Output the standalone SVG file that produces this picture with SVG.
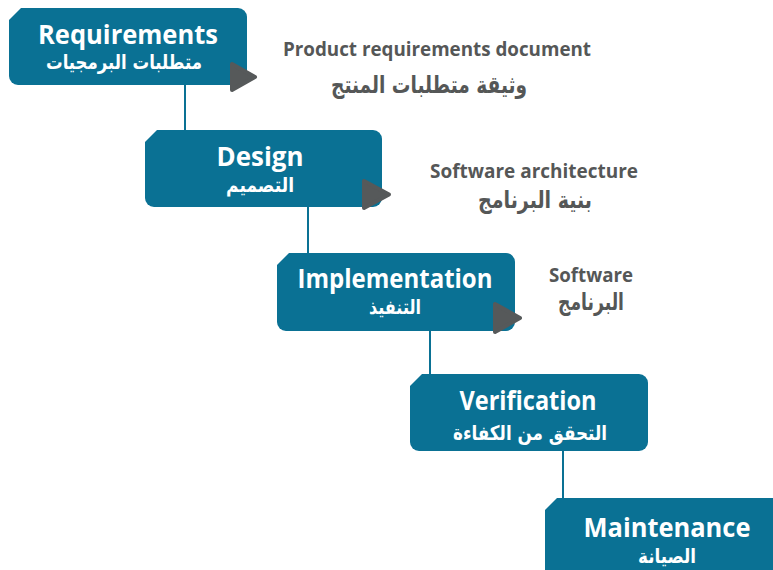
<svg xmlns="http://www.w3.org/2000/svg" width="773" height="570" viewBox="0 0 773 570">
<style>
.box{fill:#0a7194}
.tri{fill:#56595a;stroke:#56595a;stroke-width:4;stroke-linejoin:round}
.conn{stroke:#0a7194;stroke-width:2;fill:none}
.t{font-family:"Open Sans","DejaVu Sans",sans-serif;font-weight:bold;fill:#ffffff;text-anchor:middle;font-size:27px}
.a{font-family:"DejaVu Sans","Noto Sans",sans-serif;font-weight:bold;fill:#ffffff;text-anchor:middle;font-size:20px}
.l{font-family:"Open Sans","DejaVu Sans",sans-serif;font-weight:bold;fill:#555757;text-anchor:middle;font-size:19px}
.la{font-family:"DejaVu Sans","Noto Sans",sans-serif;font-weight:bold;fill:#555757;text-anchor:middle;font-size:24px}
</style>
<rect width="773" height="570" fill="#ffffff"/>
<g id="connectors">
<line class="conn" x1="185" y1="84" x2="185" y2="131"/>
<line class="conn" x1="308" y1="206" x2="308" y2="254"/>
<line class="conn" x1="430" y1="330" x2="430" y2="375"/>
<line class="conn" x1="563" y1="450" x2="563" y2="499"/>
</g>
<g id="requirements">
<path class="box" d="M21 8H238A9 9 0 0 1 247 17V76A9 9 0 0 1 238 85H18A9 9 0 0 1 9 76V20Z"/>
<text class="t" x="128" y="44" textLength="180" lengthAdjust="spacingAndGlyphs">Requirements</text>
<text class="a" x="124" y="69" textLength="156" lengthAdjust="spacingAndGlyphs">متطلبات البرمجيات</text>
<polygon class="tri" points="232,64 232,90 255,77"/>
</g>
<g id="design">
<path class="box" d="M157 130H373A9 9 0 0 1 382 139V198A9 9 0 0 1 373 207H154A9 9 0 0 1 145 198V142Z"/>
<text class="t" x="260" y="166" textLength="87" lengthAdjust="spacingAndGlyphs">Design</text>
<text class="a" x="260" y="192" textLength="68" lengthAdjust="spacingAndGlyphs">التصميم</text>
<polygon class="tri" points="364,181 364,208 389,194.5"/>
</g>
<g id="implementation">
<path class="box" d="M289 253H506A9 9 0 0 1 515 262V322A9 9 0 0 1 506 331H286A9 9 0 0 1 277 322V265Z"/>
<text class="t" x="395" y="288" textLength="195" lengthAdjust="spacingAndGlyphs">Implementation</text>
<text class="a" x="395" y="314" textLength="52" lengthAdjust="spacingAndGlyphs">التنفيذ</text>
<polygon class="tri" points="495,304 495,332 520,318"/>
</g>
<g id="verification">
<path class="box" d="M422 374H639A9 9 0 0 1 648 383V442A9 9 0 0 1 639 451H419A9 9 0 0 1 410 442V386Z"/>
<text class="t" x="528" y="410" textLength="137" lengthAdjust="spacingAndGlyphs">Verification</text>
<text class="a" x="530" y="440" textLength="154" lengthAdjust="spacingAndGlyphs">التحقق من الكفاءة</text>
</g>
<g id="maintenance">
<path class="box" d="M557 498H790V590H545V510Z"/>
<text class="t" x="667" y="537" textLength="167" lengthAdjust="spacingAndGlyphs">Maintenance</text>
<text class="a" x="667" y="563" textLength="58" lengthAdjust="spacingAndGlyphs">الصيانة</text>
</g>
<g id="labels">
<text class="l" x="437" y="56" textLength="308" lengthAdjust="spacingAndGlyphs">Product requirements document</text>
<text class="la" x="429" y="93" textLength="196" lengthAdjust="spacingAndGlyphs">وثيقة متطلبات المنتج</text>
<text class="l" x="534" y="178" textLength="208" lengthAdjust="spacingAndGlyphs">Software architecture</text>
<text class="la" x="535" y="208" textLength="114" lengthAdjust="spacingAndGlyphs">بنية البرنامج</text>
<text class="l" x="591" y="282" textLength="84" lengthAdjust="spacingAndGlyphs">Software</text>
<text class="la" x="591" y="310" font-size="22" textLength="66" lengthAdjust="spacingAndGlyphs">البرنامج</text>
</g>
</svg>
